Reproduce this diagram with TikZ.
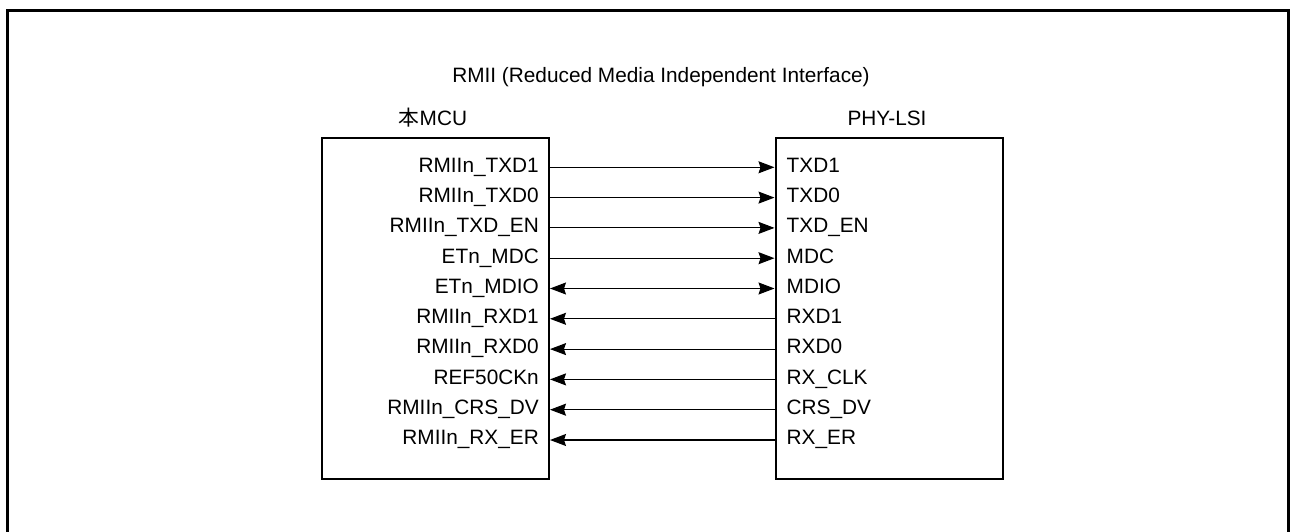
\documentclass[tikz,border=0pt]{standalone}
\usepackage{fontspec}
\setmainfont{Liberation Sans}
\newfontfamily\cjk{Noto Sans CJK JP}
\usetikzlibrary{arrows.meta}
\begin{document}
\begin{tikzpicture}[x=1pt,y=-1pt,
  chip/.style={draw,line width=2pt,minimum width=227pt,minimum height=340pt,inner sep=0pt,anchor=north west},
  lbl/.style={font=\fontsize{20.8}{24}\selectfont,inner sep=0pt},
  sig/.style={line width=1.1pt,-{Stealth[length=16pt,width=12pt,inset=2pt]}},
  bisig/.style={line width=1.1pt,{Stealth[length=16pt,width=12pt,inset=2pt]}-{Stealth[length=16pt,width=12pt,inset=2pt]}}]
\useasboundingbox (0,0) rectangle (1290,532);
\draw[line width=3pt] (7.5,10.5) rectangle (1288.5,560);
\node[lbl] (title) at (661,77) {RMII (Reduced Media Independent Interface)};
\node[lbl] (mcut) at (433,118) {{\cjk 本}MCU};
\node[lbl] (phyt) at (887,118) {PHY-LSI};
\node[chip] (mcu) at (321,137.5) {};
\node[chip] (phy) at (774.5,137.5) {};
\foreach \i/\a/\b/\d in {0/RMIIn\_TXD1/TXD1/o,1/RMIIn\_TXD0/TXD0/o,2/RMIIn\_TXD\_EN/TXD\_EN/o,3/ETn\_MDC/MDC/o,4/ETn\_MDIO/MDIO/b,5/RMIIn\_RXD1/RXD1/i,6/RMIIn\_RXD0/RXD0/i,7/REF50CKn/RX\_CLK/i,8/RMIIn\_CRS\_DV/CRS\_DV/i,9/RMIIn\_RX\_ER/RX\_ER/i}{
  \node[lbl,anchor=east] (m\i) at (539,167.3+30.3*\i) {\strut\a};
  \node[lbl,anchor=west] (p\i) at (786.5,167.3+30.3*\i) {\strut\b};
  \if\d o
    \draw[sig] (mcu.east |- m\i) -- (phy.west |- m\i);
  \else\if\d i
    \draw[sig] (phy.west |- m\i) -- (mcu.east |- m\i);
  \else
    \draw[bisig] (mcu.east |- m\i) -- (phy.west |- m\i);
  \fi\fi
}
\end{tikzpicture}
\end{document}
